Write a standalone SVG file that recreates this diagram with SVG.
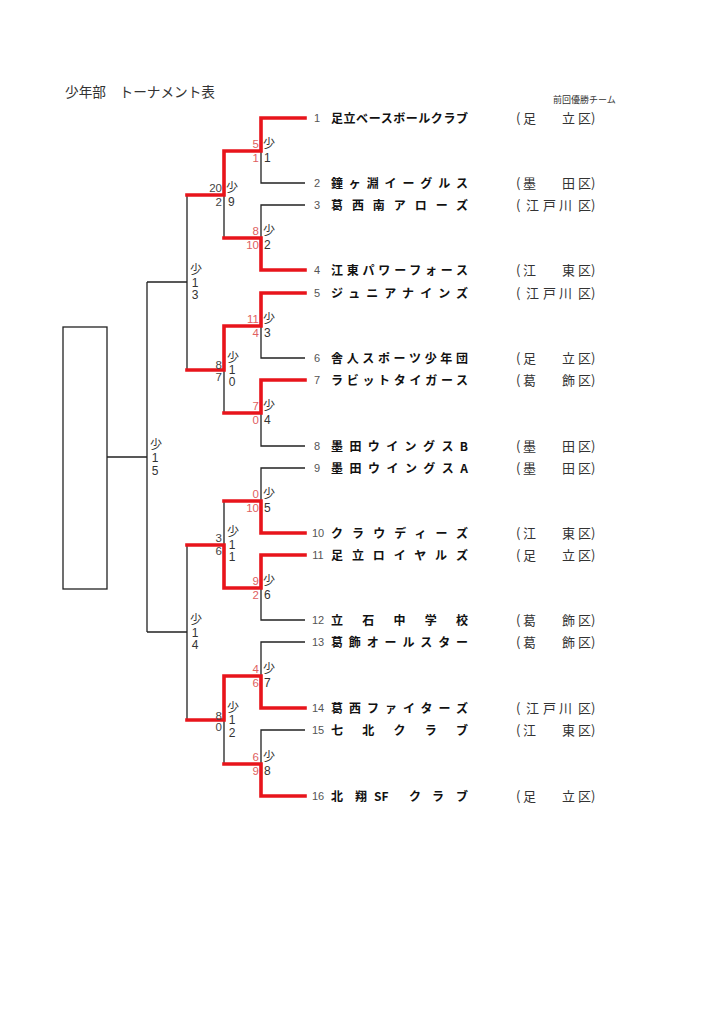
<svg xmlns="http://www.w3.org/2000/svg" width="724" height="1024" viewBox="0 0 724 1024">
<style>
.bg{fill:#fff}
.ln{fill:none;stroke:#222;stroke-width:1.3}
.rd{fill:none;stroke:#e8141b;stroke-width:3.6;stroke-linejoin:miter;stroke-linecap:square}
.t{font-family:"Liberation Sans","Noto Sans CJK JP",sans-serif;fill:#333}
.lb{font-size:12px}
.sc{font-size:11.5px;fill:#e06060;text-anchor:end}
.sd{font-size:11.5px;fill:#444;text-anchor:end}
.num{font-size:11px;fill:#555;text-anchor:middle}
.nm{font-family:"Noto Sans CJK JP",sans-serif;font-size:12px;font-weight:bold;fill:#111}
.ds{font-family:"Noto Sans CJK JP",sans-serif;font-size:13px;fill:#333}
.dm{text-anchor:middle}
</style>
<rect class="bg" x="0" y="0" width="724" height="1024"/>
<g id="title">
<text class="t" x="65" y="97" font-size="14" textLength="150" lengthAdjust="spacingAndGlyphs" fill="#222">少年部　トーナメント表</text>
<text class="t" x="553" y="103" font-size="9" fill="#333">前回優勝チーム</text>
</g>
<g id="box"><rect class="ln" x="63" y="327" width="44" height="262"/></g>
<g id="connectors">
<path class="ln" d="M305,118H261V183H305 M261,151H224 M305,205H261V270H305 M261,238H224 M305,293H261V358H305 M261,326H224 M305,380H261V446H305 M261,413H224 M305,468H261V533H305 M261,501H224 M305,555H261V620H305 M261,588H224 M305,642H261V708H305 M261,676H224 M305,730H261V796H305 M261,764H224"/>
<path class="ln" d="M224,151V238 M224,195H187 M224,326V413 M224,370H187 M224,501V588 M224,545H187 M224,676V764 M224,720H187"/>
<path class="ln" d="M187,195V370 M187,282H147 M187,545V720 M187,632H147 M147,282V632 M147,457H107"/>
<path class="rd" d="M305,118H261V151H224V195H187"/>
<path class="rd" d="M305,270H261V238H224"/>
<path class="rd" d="M305,293H261V326H224V370H187"/>
<path class="rd" d="M305,380H261V413H224"/>
<path class="rd" d="M305,533H261V501H224"/>
<path class="rd" d="M305,555H261V588H224V545H187"/>
<path class="rd" d="M305,708H261V676H224V720H187"/>
<path class="rd" d="M305,796H261V764H224"/>
</g>
<g id="labels-r1" class="t">
<text class="sc" x="259" y="148">5</text><text class="sc" x="259" y="162">1</text><text class="lb" x="263" y="148">少</text><text class="lb" x="264" y="162">1</text>
<text class="sc" x="259" y="235">8</text><text class="sc" x="259" y="249">10</text><text class="lb" x="263" y="235">少</text><text class="lb" x="264" y="249">2</text>
<text class="sc" x="259" y="323">11</text><text class="sc" x="259" y="337">4</text><text class="lb" x="263" y="323">少</text><text class="lb" x="264" y="337">3</text>
<text class="sc" x="259" y="410">7</text><text class="sc" x="259" y="424">0</text><text class="lb" x="263" y="410">少</text><text class="lb" x="264" y="424">4</text>
<text class="sc" x="259" y="498">0</text><text class="sc" x="259" y="512">10</text><text class="lb" x="263" y="498">少</text><text class="lb" x="264" y="512">5</text>
<text class="sc" x="259" y="585">9</text><text class="sc" x="259" y="599">2</text><text class="lb" x="263" y="585">少</text><text class="lb" x="264" y="599">6</text>
<text class="sc" x="259" y="673">4</text><text class="sc" x="259" y="687">6</text><text class="lb" x="263" y="673">少</text><text class="lb" x="264" y="687">7</text>
<text class="sc" x="259" y="761">6</text><text class="sc" x="259" y="775">9</text><text class="lb" x="263" y="761">少</text><text class="lb" x="264" y="775">8</text>
</g>
<g id="labels-r2" class="t">
<text class="sd" x="222" y="192">20</text><text class="sd" x="222" y="206">2</text><text class="lb" x="226" y="192">少</text><text class="lb" x="228" y="206">9</text>
<text class="sd" x="222" y="369">8</text><text class="sd" x="222" y="381">7</text><text class="lb" x="227" y="362">少</text><text class="lb dm" x="232" y="374">1</text><text class="lb dm" x="232" y="386">0</text>
<text class="sd" x="222" y="542">3</text><text class="sd" x="222" y="555">6</text><text class="lb" x="227" y="536">少</text><text class="lb dm" x="232" y="549">1</text><text class="lb dm" x="232" y="561">1</text>
<text class="sd" x="222" y="720">8</text><text class="sd" x="222" y="731">0</text><text class="lb" x="227" y="712">少</text><text class="lb dm" x="232" y="724">1</text><text class="lb dm" x="232" y="737">2</text>
</g>
<g id="labels-r3" class="t">
<text class="lb" x="190" y="274">少</text><text class="lb dm" x="195" y="287">1</text><text class="lb dm" x="195" y="299">3</text>
<text class="lb" x="190" y="624">少</text><text class="lb dm" x="195" y="637">1</text><text class="lb dm" x="195" y="649">4</text>
<text class="lb" x="150" y="449">少</text><text class="lb dm" x="155" y="462">1</text><text class="lb dm" x="155" y="475">5</text>
</g>
<g id="team-1"><text class="t num" x="317" y="122">1</text><text class="nm" x="331" y="122.5" textLength="137" lengthAdjust="spacing">足立ベースボールクラブ</text><text class="ds" y="123"><tspan x="516">(</tspan><tspan x="523">足</tspan><tspan x="562">立</tspan><tspan x="578">区</tspan><tspan x="591">)</tspan></text></g>
<g id="team-2"><text class="t num" x="317" y="187">2</text><text class="nm" x="331" y="187.5" textLength="137" lengthAdjust="spacing">鐘ヶ淵イーグルス</text><text class="ds" y="188"><tspan x="516">(</tspan><tspan x="523">墨</tspan><tspan x="562">田</tspan><tspan x="578">区</tspan><tspan x="591">)</tspan></text></g>
<g id="team-3"><text class="t num" x="317" y="209">3</text><text class="nm" x="331" y="209.5" textLength="137" lengthAdjust="spacing">葛西南アローズ</text><text class="ds" y="210"><tspan x="516">(</tspan><tspan x="526">江</tspan><tspan x="543">戸</tspan><tspan x="559">川</tspan><tspan x="578">区</tspan><tspan x="591">)</tspan></text></g>
<g id="team-4"><text class="t num" x="317" y="274">4</text><text class="nm" x="331" y="274.5" textLength="137" lengthAdjust="spacing">江東パワーフォース</text><text class="ds" y="275"><tspan x="516">(</tspan><tspan x="523">江</tspan><tspan x="562">東</tspan><tspan x="578">区</tspan><tspan x="591">)</tspan></text></g>
<g id="team-5"><text class="t num" x="317" y="297">5</text><text class="nm" x="331" y="297.5" textLength="137" lengthAdjust="spacing">ジュニアナインズ</text><text class="ds" y="298"><tspan x="516">(</tspan><tspan x="526">江</tspan><tspan x="543">戸</tspan><tspan x="559">川</tspan><tspan x="578">区</tspan><tspan x="591">)</tspan></text></g>
<g id="team-6"><text class="t num" x="317" y="362">6</text><text class="nm" x="331" y="362.5" textLength="137" lengthAdjust="spacing">舎人スポーツ少年団</text><text class="ds" y="363"><tspan x="516">(</tspan><tspan x="523">足</tspan><tspan x="562">立</tspan><tspan x="578">区</tspan><tspan x="591">)</tspan></text></g>
<g id="team-7"><text class="t num" x="317" y="384">7</text><text class="nm" x="331" y="384.5" textLength="137" lengthAdjust="spacing">ラビットタイガース</text><text class="ds" y="385"><tspan x="516">(</tspan><tspan x="523">葛</tspan><tspan x="562">飾</tspan><tspan x="578">区</tspan><tspan x="591">)</tspan></text></g>
<g id="team-8"><text class="t num" x="317" y="450">8</text><text class="nm" x="331" y="450.5" textLength="137" lengthAdjust="spacing">墨田ウイングスB</text><text class="ds" y="451"><tspan x="516">(</tspan><tspan x="523">墨</tspan><tspan x="562">田</tspan><tspan x="578">区</tspan><tspan x="591">)</tspan></text></g>
<g id="team-9"><text class="t num" x="317" y="472">9</text><text class="nm" x="331" y="472.5" textLength="137" lengthAdjust="spacing">墨田ウイングスA</text><text class="ds" y="473"><tspan x="516">(</tspan><tspan x="523">墨</tspan><tspan x="562">田</tspan><tspan x="578">区</tspan><tspan x="591">)</tspan></text></g>
<g id="team-10"><text class="t num" x="318" y="537">10</text><text class="nm" x="331" y="537.5" textLength="137" lengthAdjust="spacing">クラウディーズ</text><text class="ds" y="538"><tspan x="516">(</tspan><tspan x="523">江</tspan><tspan x="562">東</tspan><tspan x="578">区</tspan><tspan x="591">)</tspan></text></g>
<g id="team-11"><text class="t num" x="318" y="559">11</text><text class="nm" x="331" y="559.5" textLength="137" lengthAdjust="spacing">足立ロイヤルズ</text><text class="ds" y="560"><tspan x="516">(</tspan><tspan x="523">足</tspan><tspan x="562">立</tspan><tspan x="578">区</tspan><tspan x="591">)</tspan></text></g>
<g id="team-12"><text class="t num" x="318" y="624">12</text><text class="nm" x="331" y="624.5" textLength="137" lengthAdjust="spacing">立石中学校</text><text class="ds" y="625"><tspan x="516">(</tspan><tspan x="523">葛</tspan><tspan x="562">飾</tspan><tspan x="578">区</tspan><tspan x="591">)</tspan></text></g>
<g id="team-13"><text class="t num" x="318" y="646">13</text><text class="nm" x="331" y="646.5" textLength="137" lengthAdjust="spacing">葛飾オールスター</text><text class="ds" y="647"><tspan x="516">(</tspan><tspan x="523">葛</tspan><tspan x="562">飾</tspan><tspan x="578">区</tspan><tspan x="591">)</tspan></text></g>
<g id="team-14"><text class="t num" x="318" y="712">14</text><text class="nm" x="331" y="712.5" textLength="137" lengthAdjust="spacing">葛西ファイターズ</text><text class="ds" y="713"><tspan x="516">(</tspan><tspan x="526">江</tspan><tspan x="543">戸</tspan><tspan x="559">川</tspan><tspan x="578">区</tspan><tspan x="591">)</tspan></text></g>
<g id="team-15"><text class="t num" x="318" y="734">15</text><text class="nm" x="331" y="734.5" textLength="137" lengthAdjust="spacing">七北クラブ</text><text class="ds" y="735"><tspan x="516">(</tspan><tspan x="523">江</tspan><tspan x="562">東</tspan><tspan x="578">区</tspan><tspan x="591">)</tspan></text></g>
<g id="team-16"><text class="t num" x="318" y="800">16</text><text class="nm" y="800.5"><tspan x="331">北</tspan><tspan x="355">翔</tspan><tspan x="374">SF</tspan><tspan x="409">ク</tspan><tspan x="432">ラ</tspan><tspan x="456">ブ</tspan></text><text class="ds" y="801"><tspan x="516">(</tspan><tspan x="523">足</tspan><tspan x="562">立</tspan><tspan x="578">区</tspan><tspan x="591">)</tspan></text></g>
</svg>
